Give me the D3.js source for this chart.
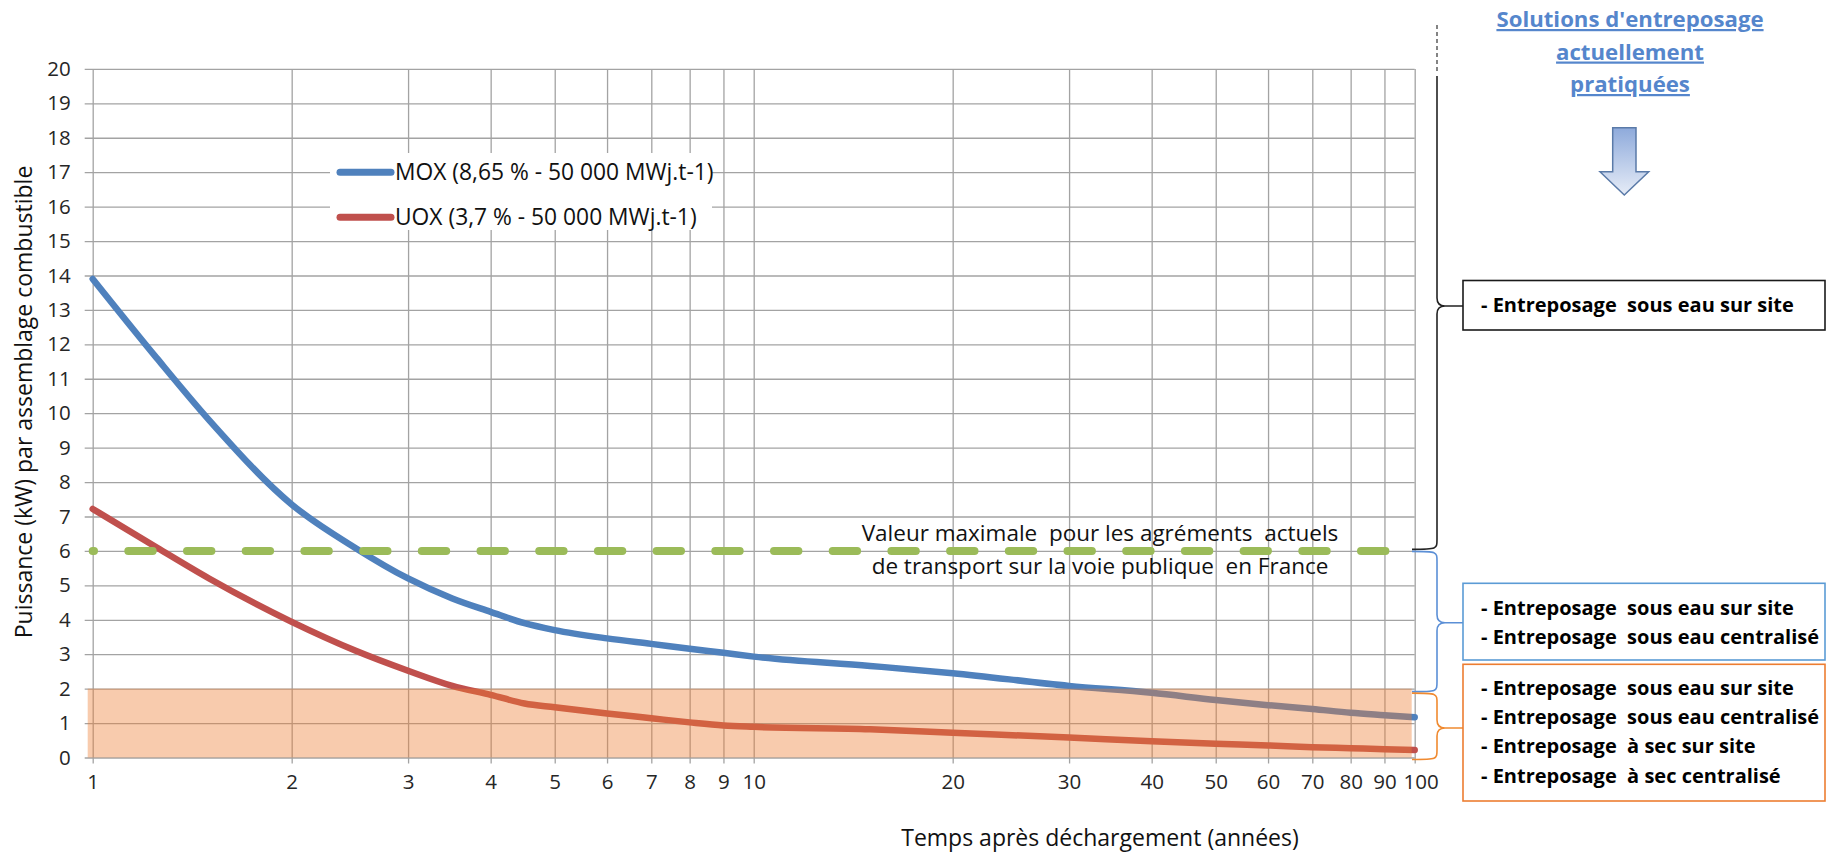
<!DOCTYPE html>
<html lang="fr">
<head>
<meta charset="UTF-8">
<title>Puissance par assemblage combustible</title>
<script src="https://d3js.org/d3.v7.min.js"></script>
<style>
    body { margin: 0; background: #fff; font-family: "Open Sans", sans-serif; }
    svg { display: block; }
    .grid line { stroke: #a3a3a3; stroke-width: 1.3px; }
    .grid path { display: none; }
    .grid text { font-family: "Open Sans", sans-serif; font-size: 20.5px; fill: #262626; }
    .box-text { font-size: 20px; font-weight: bold; fill: #000; white-space: pre; }
    .note { font-size: 22.5px; fill: #111; white-space: pre; }
</style>
</head>
<body>
<svg id="chart"></svg>
<script>
    // values (years after unloading, kW per assembly)
    const years    = [1, 1.25, 1.5, 2, 2.5, 3, 3.5, 4, 4.5, 5, 6, 7, 8, 9, 10, 15, 20, 30, 40, 50, 60, 70, 80, 90, 100];
    const moxPower = [13.9, 11.6, 9.8, 7.35, 6.08, 5.2, 4.62, 4.23, 3.9, 3.7, 3.46, 3.3, 3.16, 3.04, 2.93, 2.66, 2.45, 2.08, 1.88, 1.67, 1.52, 1.41, 1.3, 1.23, 1.17];
    const uoxPower = [7.22, 6.1, 5.2, 3.94, 3.1, 2.52, 2.08, 1.82, 1.57, 1.46, 1.28, 1.14, 1.02, 0.93, 0.89, 0.82, 0.72, 0.58, 0.47, 0.40, 0.35, 0.30, 0.27, 0.24, 0.22];
    const seriesNames = ["MOX (8,65 % - 50 000 MWj.t-1)", "UOX (3,7 % - 50 000 MWj.t-1)"];
    const seriesColors = ["#4f81bd", "#c0504d"];

    const xTicks = [1, 2, 3, 4, 5, 6, 7, 8, 9, 10, 20, 30, 40, 50, 60, 70, 80, 90, 100];
    const yTicks = d3.range(0, 21);

    const transportLimit = 6;   // green dashed line
    const dryLimit = 2;         // orange band

    const noteLines = ["Valeur maximale  pour les agréments  actuels", "de transport sur la voie publique  en France"];
    const titleLines = ["Solutions d'entreposage", "actuellement", "pratiquées"];
    const wetSiteLines = ["- Entreposage  sous eau sur site"];
    const wetLines = ["- Entreposage  sous eau sur site", "- Entreposage  sous eau centralisé"];
    const allLines = ["- Entreposage  sous eau sur site", "- Entreposage  sous eau centralisé", "- Entreposage  à sec sur site", "- Entreposage  à sec centralisé"];

    const width = 1827, height = 853;
    const svg = d3.select("#chart").attr("width", width).attr("height", height);

    const x = d3.scaleLog().domain([1, 100]).range([92.7, 1414.7]);
    const y = d3.scaleLinear().domain([0, 20]).range([757.5, 68.9]);

    // gradient for the arrow
    const grad = svg.append("defs").append("linearGradient")
        .attr("id", "arrowFill").attr("x1", 0).attr("y1", 0).attr("x2", 0).attr("y2", 1);
    grad.append("stop").attr("offset", "0%").attr("stop-color", "#8eaadb");
    grad.append("stop").attr("offset", "100%").attr("stop-color", "#e6ecf7");

    // y gridlines + labels
    const yAxis = svg.append("g").attr("class", "grid")
        .attr("transform", `translate(${x(1)},0)`)
        .call(d3.axisLeft(y).tickValues(yTicks).tickSizeInner(-(x(100) - x(1))).tickSizeOuter(0).tickPadding(22));
    yAxis.selectAll(".tick line").attr("x1", -8);

    // x gridlines + labels
    const xAxis = svg.append("g").attr("class", "grid")
        .attr("transform", `translate(0,${y(0)})`)
        .call(d3.axisBottom(x).tickValues(xTicks).tickFormat(d3.format("d"))
            .tickSizeInner(-(y(0) - y(20))).tickSizeOuter(0).tickPadding(17));
    xAxis.selectAll(".tick line").attr("y1", 6);
    xAxis.selectAll(".tick text").filter(d => d === 100).attr("dx", 6);

    // curves
    const line = d3.line().x(d => x(d[0])).y(d => y(d[1])).curve(d3.curveMonotoneX);
    [moxPower, uoxPower].forEach((vals, i) => {
        svg.append("path")
            .datum(years.map((t, k) => [t, vals[k]]))
            .attr("d", line)
            .attr("fill", "none")
            .attr("stroke", seriesColors[i])
            .attr("stroke-width", 6.5)
            .attr("stroke-linecap", "round");
    });

    // transport limit
    svg.append("line")
        .attr("x1", x(1)).attr("x2", x(100))
        .attr("y1", y(transportLimit)).attr("y2", y(transportLimit))
        .attr("stroke", "#9bbb59").attr("stroke-width", 8)
        .attr("stroke-linecap", "round")
        .attr("stroke-dasharray", "24.4 34.3").attr("stroke-dashoffset", 23.1);

    // dry storage band (semi transparent, over the curves)
    svg.append("rect")
        .attr("x", x(1) - 5).attr("width", x(100) - 3 - (x(1) - 5))
        .attr("y", y(dryLimit)).attr("height", y(0) - y(dryLimit))
        .attr("fill", "#ed7d31").attr("fill-opacity", 0.4);

    // legend
    const legend = svg.append("g");
    legend.append("rect").attr("x", 330).attr("y", 153).attr("width", 382).attr("height", 77).attr("fill", "#fff");
    seriesNames.forEach((name, i) => {
        const ly = 172.3 + i * 45;
        legend.append("line").attr("x1", 340).attr("x2", 391).attr("y1", ly).attr("y2", ly)
            .attr("stroke", seriesColors[i]).attr("stroke-width", 7).attr("stroke-linecap", "round");
        legend.append("text").attr("x", 395).attr("y", ly + 7.8)
            .attr("font-size", 22.8).attr("fill", "#111").text(name);
    });

    // note on the 6 kW line
    noteLines.forEach((t, i) => {
        svg.append("text").attr("class", "note")
            .attr("x", 1100).attr("y", 540.7 + i * 33).attr("text-anchor", "middle").text(t);
    });

    // axis titles
    svg.append("text")
        .attr("transform", "translate(31.7,402) rotate(-90)")
        .attr("text-anchor", "middle").attr("font-size", 23).attr("fill", "#111")
        .text("Puissance (kW) par assemblage combustible");
    svg.append("text")
        .attr("x", 1100).attr("y", 846).attr("text-anchor", "middle")
        .attr("font-size", 23).attr("fill", "#111")
        .text("Temps après déchargement (années)");

    // right-hand panel
    titleLines.forEach((t, i) => {
        svg.append("text").attr("x", 1630).attr("y", 27 + i * 32.5)
            .attr("text-anchor", "middle").attr("font-size", 22.2).attr("font-weight", "bold")
            .attr("fill", "#5586cc").attr("text-decoration", "underline").text(t);
    });

    svg.append("path")
        .attr("d", "M1612.7,127.7 L1636,127.7 L1636,171.7 L1648.7,171.7 L1624.3,195 L1600,171.7 L1612.7,171.7 Z")
        .attr("fill", "url(#arrowFill)").attr("stroke", "#5a7aa8").attr("stroke-width", 1.5);

    const bx = 1412, vx = 1437, boxX = 1463;
    function brace(top, bot, mid, color) {
        const p = d3.path();
        p.moveTo(bx, top);
        p.bezierCurveTo(vx, top, vx, top, vx, top + 10);
        p.lineTo(vx, mid - 8);
        p.quadraticCurveTo(vx, mid, vx + 8, mid);
        p.lineTo(boxX, mid);
        p.moveTo(vx + 8, mid);
        p.quadraticCurveTo(vx, mid, vx, mid + 8);
        p.lineTo(vx, bot - 10);
        p.bezierCurveTo(vx, bot, vx, bot, bx, bot);
        svg.append("path").attr("d", p.toString()).attr("fill", "none")
            .attr("stroke", color).attr("stroke-width", 1.6);
    }

    // black brace: from above the chart down to the 6 kW line
    svg.append("line").attr("x1", vx).attr("x2", vx).attr("y1", 25).attr("y2", 72)
        .attr("stroke", "#333").attr("stroke-width", 1.2).attr("stroke-dasharray", "4 3");
    const bp = d3.path();
    bp.moveTo(vx, 76); bp.lineTo(vx, 298);
    bp.quadraticCurveTo(vx, 306, vx + 8, 306); bp.lineTo(boxX, 306);
    bp.moveTo(vx + 8, 306); bp.quadraticCurveTo(vx, 306, vx, 314);
    bp.lineTo(vx, y(transportLimit) - 12);
    bp.bezierCurveTo(vx, y(transportLimit) - 1.5, vx, y(transportLimit) - 1.5, bx, y(transportLimit) - 1.5);
    svg.append("path").attr("d", bp.toString()).attr("fill", "none").attr("stroke", "#222").attr("stroke-width", 1.6);

    brace(y(transportLimit) + 0.5, y(dryLimit) + 3, 622.7, "#5b8fd6");
    brace(y(dryLimit) + 4.5, y(0) + 2, 728, "#f08a30");

    function box(top, h, lines, color, firstBase) {
        svg.append("rect").attr("x", boxX).attr("y", top).attr("width", 362).attr("height", h)
            .attr("fill", "#fff").attr("stroke", color).attr("stroke-width", 1.6);
        lines.forEach((t, i) => {
            svg.append("text").attr("class", "box-text")
                .attr("x", 1481).attr("y", firstBase + i * 29.2).text(t);
        });
    }
    box(280.5, 49.5, wetSiteLines, "#1a1a1a", 312);
    box(583.3, 76.7, wetLines, "#5b9bd5", 615);
    box(664.3, 136.7, allLines, "#ed7d31", 695);
</script>
</body>
</html>
